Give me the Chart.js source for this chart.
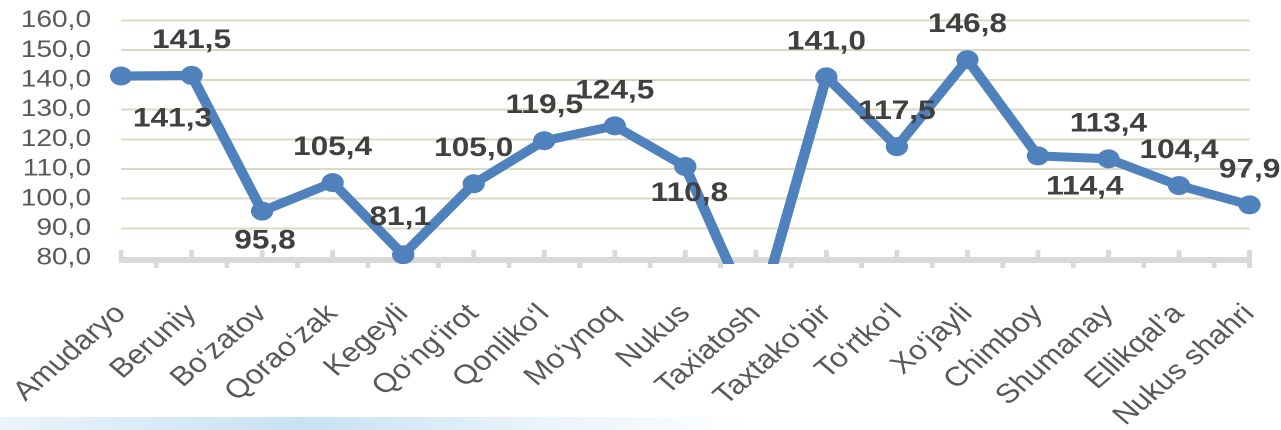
<!DOCTYPE html>
<html><head><meta charset="utf-8">
<script src="https://cdn.jsdelivr.net/npm/chart.js@4.4.1/dist/chart.umd.min.js"></script>
<style>
html,body{margin:0;padding:0;background:#fff;overflow:hidden;width:1281px;height:430px}
#swoosh{position:absolute;left:0;top:417px;width:760px;height:13px;
  background:linear-gradient(to right,rgba(225,239,248,0.7),rgba(196,224,241,0.95) 40%,rgba(222,238,248,0.7) 70%,rgba(255,255,255,0));}
#wrap{position:absolute;left:0;top:0;width:1094.9px;height:430px;transform:scaleX(1.17);transform-origin:0 0}
</style></head><body>
<div id="swoosh"></div>
<div id="wrap"><canvas id="c"></canvas></div>
<script>
const categories = ["Amudaryo","Beruniy","Bo\u2018zatov","Qorao\u2018zak","Kegeyli","Qo\u2018ng\u2018irot","Qonliko\u2018l","Mo\u2018ynoq","Nukus","Taxiatosh","Taxtako\u2018pir","To\u2018rtko\u2018l","Xo\u2018jayli","Chimboy","Shumanay","Ellikqal\u2019a","Nukus shahri"];
const values = [141.3,141.5,95.8,105.4,81.1,105.0,119.5,124.5,110.8,57.5,141.0,117.5,146.8,114.4,113.4,104.4,97.9];
const yMin = 80, yMax = 160, yStep = 10;

const fmt = v => v.toFixed(1).replace('.', ',');

Chart.defaults.font.family = "'Liberation Sans', Arial, sans-serif";

const axisBand = {
  id: 'axisBand',
  beforeDatasetsDraw(chart) {
    const {ctx, chartArea: a, scales: {x}} = chart;
    const y0 = a.bottom + 2;
    ctx.save();
    ctx.strokeStyle = '#d9d9d9';
    ctx.lineWidth = 6;
    ctx.beginPath(); ctx.moveTo(a.left - 2, y0); ctx.lineTo(a.right + 2, y0); ctx.stroke();
    ctx.lineWidth = 4;
    const n = categories.length;
    for (let i = 0; i < n; i++) {
      const px = x.getPixelForValue(i);
      ctx.beginPath(); ctx.moveTo(px, y0 - 10); ctx.lineTo(px, y0); ctx.stroke();
      if (i < n - 1) {
        const m = (px + x.getPixelForValue(i + 1)) / 2;
        ctx.beginPath(); ctx.moveTo(m, y0); ctx.lineTo(m, y0 + 8); ctx.stroke();
      }
    }
    const pr = x.getPixelForValue(n - 1);
    ctx.beginPath(); ctx.moveTo(pr, y0); ctx.lineTo(pr, y0 + 8); ctx.stroke();
    ctx.restore();
  }
};

const valueLabels = {
  id: 'valueLabels',
  afterDatasetsDraw(chart, args, opts) {
    const {ctx} = chart;
    const meta = chart.getDatasetMeta(0);
    const ds = chart.data.datasets[0].data;
    ctx.save();
    ctx.font = "bold 27px 'Liberation Sans', Arial, sans-serif";
    ctx.fillStyle = '#404040';
    ctx.textAlign = 'center';
    ctx.textBaseline = 'middle';
    meta.data.forEach((pt, i) => {
      const v = ds[i];
      if (v < yMin || v > yMax) return;
      const p = opts.placement[i] || opts.defaultPlacement;
      ctx.fillText(fmt(v), pt.x + p.dx, pt.y + p.dy);
    });
    ctx.restore();
  }
};

new Chart(document.getElementById('c'), {
  type: 'line',
  data: {
    labels: categories,
    datasets: [{
      data: values,
      borderColor: '#4f81bd',
      backgroundColor: '#4f81bd',
      borderWidth: 9,
      pointRadius: 9.5,
      pointBackgroundColor: '#4f81bd',
      pointBorderWidth: 0,
      pointHoverRadius: 9.5,
      tension: 0,
      clip: {left: 20, top: 20, right: 20, bottom: 6}
    }]
  },
  options: {
    responsive: true,
    maintainAspectRatio: false,
    devicePixelRatio: 2,
    animation: false,
    events: [],
    layout: {padding: {top: 20.5, right: 27.4, left: 0, bottom: 0}},
    plugins: {
      legend: {display: false},
      tooltip: {enabled: false},
      valueLabels: {
        defaultPlacement: {dx: 0, dy: -35},
        placement: {
          0: {dx: 44, dy: 43},
          2: {dx: 2.5, dy: 30},
          4: {dx: -2.5, dy: -37},
          8: {dx: 3.5, dy: 27},
          13: {dx: 40, dy: 31}
        }
      }
    },
    scales: {
      x: {
        offset: false,
        grid: {display: false, drawTicks: false},
        border: {display: false},
        ticks: {
          color: '#595959',
          font: {size: 27},
          minRotation: 45,
          maxRotation: 45,
          autoSkip: false,
          padding: 40
        },
        afterFit(s) { s.height = 172; s.paddingLeft = 0; s.paddingRight = 0; s.paddingTop = 0; s.paddingBottom = 0; }
      },
      y: {
        min: yMin,
        max: yMax,
        grid: {color: '#dcd8c2', lineWidth: 2, drawTicks: false},
        border: {display: false},
        ticks: {
          stepSize: yStep,
          autoSkip: false,
          color: '#595959',
          font: {size: 24},
          padding: 25.6,
          callback: v => fmt(v)
        },
        afterFit(s) { s.width = 103.4; s.paddingTop = 0; s.paddingBottom = 0; s.paddingLeft = 0; s.paddingRight = 0; }
      }
    }
  },
  plugins: [axisBand, valueLabels]
});
</script>
</body></html>
